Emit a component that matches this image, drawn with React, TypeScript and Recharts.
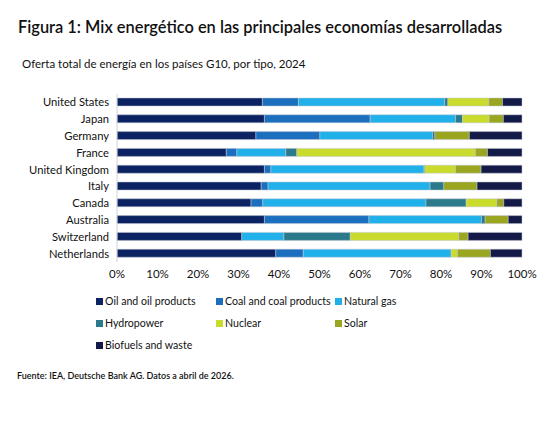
import { BarChart, Bar, XAxis, YAxis } from "recharts";

const countries = [
  "United States",
  "Japan",
  "Germany",
  "France",
  "United Kingdom",
  "Italy",
  "Canada",
  "Australia",
  "Switzerland",
  "Netherlands",
];

const oil = [35.9, 36.4, 34.3, 27.0, 36.4, 35.6, 33.1, 36.4, 30.8, 39.2];
const coal = [8.9, 26.1, 15.8, 2.6, 1.6, 1.7, 2.9, 25.8, 0, 6.8];
const gas = [36.1, 21.1, 27.8, 12.1, 37.8, 40.0, 40.3, 27.8, 10.4, 36.5];
const hydro = [0.8, 1.7, 0.6, 2.7, 0.2, 3.4, 9.9, 0.9, 16.4, 0];
const nuclear = [10.1, 6.6, 0, 44.1, 7.6, 0, 7.6, 0, 26.8, 1.6];
const solar = [3.4, 3.5, 8.5, 3.0, 6.3, 8.2, 1.7, 5.7, 2.3, 8.1];
const biofuels = [4.8, 4.6, 13.0, 8.5, 10.1, 11.1, 4.5, 3.4, 13.3, 7.8];

const xTicks = [0, 10, 20, 30, 40, 50, 60, 70, 80, 90, 100];

const SERIES = [
  { key: "oil", name: "Oil and oil products", color: "#0b2363", values: oil },
  { key: "coal", name: "Coal and coal products", color: "#1c6fbe", values: coal },
  { key: "gas", name: "Natural gas", color: "#21b1ea", values: gas },
  { key: "hydro", name: "Hydropower", color: "#2b7a8b", values: hydro },
  { key: "nuclear", name: "Nuclear", color: "#c9dc2d", values: nuclear },
  { key: "solar", name: "Solar", color: "#9aa520", values: solar },
  { key: "bio", name: "Biofuels and waste", color: "#141a48", values: biofuels },
];

const data = countries.map((name, i) => {
  const row: Record<string, string | number> = { name };
  SERIES.forEach((s) => (row[s.key] = s.values[i]));
  return row;
});

const FONT = "Lato, 'Open Sans', sans-serif";

// legend grid: 3 columns
const legendCols = [96, 216, 335];
const legendRows = [301, 323, 345];

export default function App() {
  return (
    <div
      style={{
        position: "absolute",
        left: 0,
        top: 0,
        width: 549,
        height: 424,
        background: "#fff",
        fontFamily: FONT,
        color: "#111",
      }}
    >
      <div
        style={{
          position: "absolute",
          left: 18,
          top: 17,
          fontSize: 16.4,
          fontWeight: 600,
          whiteSpace: "nowrap",
        }}
      >
        Figura 1: Mix energético en las principales economías desarrolladas
      </div>
      <div
        style={{
          position: "absolute",
          left: 22,
          top: 57,
          fontSize: 11.5,
          whiteSpace: "nowrap",
        }}
      >
        Oferta total de energía en los países G10, por tipo, 2024
      </div>

      <div style={{ position: "absolute", left: 0, top: 0 }}>
        <BarChart
          width={549}
          height={292}
          data={data}
          layout="vertical"
          margin={{ top: 94, right: 27, bottom: 0, left: 0 }}
          barSize={8}
        >
          <XAxis
            type="number"
            domain={[0, 100]}
            ticks={xTicks}
            tickFormatter={(v) => `${v}%`}
            axisLine={false}
            tickLine={false}
            height={30}
            interval={0}
            tick={{ fill: "#111", fontSize: 11.5, fontFamily: FONT }}
          />
          <YAxis
            type="category"
            dataKey="name"
            width={117}
            interval={0}
            axisLine={{ stroke: "#cfd2d8" }}
            tickLine={false}
            tickMargin={2}
            tick={{ fill: "#111", fontSize: 11.2, fontFamily: FONT }}
          />
          {SERIES.map((s) => (
            <Bar
              key={s.key}
              dataKey={s.key}
              name={s.name}
              stackId="a"
              fill={s.color}
              stroke="#c3c6d2"
              strokeWidth={0.5}
              isAnimationActive={false}
            />
          ))}
        </BarChart>
      </div>

      {SERIES.map((s, i) => (
        <div
          key={s.key}
          style={{
            position: "absolute",
            left: legendCols[i % 3],
            top: legendRows[Math.floor(i / 3)] - 8,
            height: 16,
            display: "flex",
            alignItems: "center",
            fontSize: 10.6,
            whiteSpace: "nowrap",
          }}
        >
          <span
            style={{
              display: "inline-block",
              width: 7,
              height: 7,
              background: s.color,
              marginRight: 2,
            }}
          />
          {s.name}
        </div>
      ))}

      <div
        style={{
          position: "absolute",
          left: 17,
          top: 370,
          fontSize: 9,
          fontWeight: 600,
          whiteSpace: "nowrap",
        }}
      >
        Fuente: IEA, Deutsche Bank AG. Datos a abril de 2026.
      </div>
    </div>
  );
}
